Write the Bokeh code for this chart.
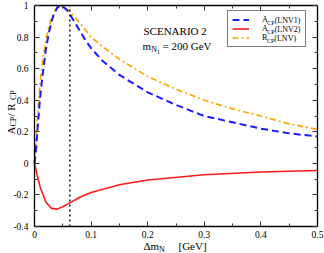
import math
from bokeh.plotting import figure
from bokeh.models import (LinearAxis, FixedTicker, Label, Legend,
                          LegendItem, Range1d)
from bokeh.embed import file_html
from bokeh.resources import INLINE

# ---------------- data ----------------
dm_lnv1 = [0, 0.002, 0.005, 0.01, 0.015, 0.02, 0.025, 0.03, 0.035, 0.04,
           0.045, 0.05, 0.06, 0.07, 0.08, 0.09, 0.1, 0.12, 0.15, 0.2,
           0.25, 0.3, 0.35, 0.4, 0.45, 0.5]
acp_lnv1 = [0, 0.06, 0.2, 0.42, 0.58, 0.72, 0.82, 0.9, 0.95, 0.985,
            1.0, 0.995, 0.96, 0.9, 0.84, 0.78, 0.73, 0.65, 0.56, 0.45,
            0.37, 0.3, 0.26, 0.22, 0.19, 0.17]

dm_rcp = [0, 0.002, 0.005, 0.01, 0.015, 0.02, 0.025, 0.03, 0.035, 0.04,
          0.045, 0.05, 0.06, 0.07, 0.08, 0.09, 0.1, 0.12, 0.15, 0.2,
          0.25, 0.3, 0.35, 0.4, 0.45, 0.5]
rcp_lnv = [0, 0.09, 0.28, 0.52, 0.67, 0.78, 0.86, 0.92, 0.96, 0.99,
           1.0, 0.995, 0.97, 0.93, 0.89, 0.845, 0.8, 0.74, 0.66, 0.55,
           0.47, 0.4, 0.345, 0.3, 0.25, 0.215]

dm_lnv2 = [0, 0.005, 0.01, 0.02, 0.03, 0.04, 0.05, 0.06, 0.07, 0.08,
           0.1, 0.15, 0.2, 0.3, 0.4, 0.5]
acp_lnv2 = [0, -0.08, -0.15, -0.245, -0.285, -0.29, -0.275, -0.255,
            -0.235, -0.215, -0.185, -0.135, -0.105, -0.072, -0.055, -0.045]

dm_marker = 0.0625

x_lo, x_hi = 0, 0.5
y_lo, y_hi = -0.4, 1.0
x_ticks = [0, 0.1, 0.2, 0.3, 0.4, 0.5]
x_tick_labels = ["0", "0.1", "0.2", "0.3", "0.4", "0.5"]
x_minor = [0.05, 0.15, 0.25, 0.35, 0.45]
y_ticks = [-0.4, -0.2, 0, 0.2, 0.4, 0.6, 0.8, 1]
y_tick_labels = ["-0.4", "-0.2", "0", "0.2", "0.4", "0.6", "0.8", "1"]
y_minor = [-0.3, -0.1, 0.1, 0.3, 0.5, 0.7, 0.9]

FONT = "Liberation Serif"

# ---------------- layout: data box placed on the canvas ----------------
W, H = 324, 253
PL, PR, PT, PB = 34, 317, 5, 226          # data box edges (canvas px)
sx = (x_hi - x_lo) / (PR - PL)
sy = (y_hi - y_lo) / (PB - PT)
xr = Range1d(x_lo - PL * sx, x_hi + (W - PR) * sx)
yr = Range1d(y_lo - (H - PB) * sy, y_hi + PT * sy)


def dx(px):
    return x_lo + (px - PL) * sx


def dy(py):
    return y_hi - (py - PT) * sy


p = figure(width=W, height=H, x_range=xr, y_range=yr, output_backend="svg",
           toolbar_location=None, x_axis_location=None, y_axis_location=None,
           min_border=0)
p.xgrid.visible = False
p.ygrid.visible = False
p.outline_line_color = None
p.background_fill_color = "white"
p.border_fill_color = "white"


def make_axis(side, loc, bounds, ticks, minor, labels, show):
    ax = LinearAxis(fixed_location=loc, bounds=bounds)
    ax.ticker = FixedTicker(ticks=ticks, minor_ticks=minor)
    if show:
        ax.major_label_overrides = dict(zip(ticks, labels))
        ax.major_label_text_font = FONT
        ax.major_label_text_font_size = "9.5px"
        ax.major_label_text_color = "black"
    else:
        ax.major_label_overrides = {t: "" for t in ticks}
    ax.axis_line_color = "black"
    ax.axis_line_width = 1.3
    ax.major_tick_in = 5
    ax.major_tick_out = 0
    ax.minor_tick_in = 3
    ax.minor_tick_out = 0
    ax.major_tick_line_color = "#333333"
    ax.minor_tick_line_color = "#333333"
    ax.axis_label = None
    p.add_layout(ax, side)
    return ax


bx = make_axis("below", y_lo, (x_lo, x_hi), x_ticks, x_minor, x_tick_labels, True)
bx.major_label_standoff = 4
ly = make_axis("left", x_lo, (y_lo, y_hi), y_ticks, y_minor, y_tick_labels, True)
ly.major_label_standoff = 6
make_axis("above", y_hi, (x_lo, x_hi), x_ticks, x_minor, x_tick_labels, False)
make_axis("right", x_hi, (y_lo, y_hi), y_ticks, y_minor, y_tick_labels, False)

# ---------------- curves ----------------
r_red = p.line(dm_lnv2, acp_lnv2, line_color="#ff1a1a", line_width=1.6)
r_org = p.line(dm_rcp, rcp_lnv, line_color="#ffa500", line_width=1.7,
               line_dash="6 3 2 3")
r_blue = p.line(dm_lnv1, acp_lnv1, line_color="#1a1aff", line_width=2,
                line_dash="7 4")
p.segment(x0=[dm_marker], y0=[y_lo], x1=[dm_marker], y1=[y_hi],
          line_color="black", line_width=1.4, line_dash="2 3")

# ---------------- legend ----------------
legend = Legend(items=[LegendItem(label="A", renderers=[r_blue]),
                       LegendItem(label="A", renderers=[r_red]),
                       LegendItem(label="R", renderers=[r_org])],
                location=(227, H - 47), padding=4, spacing=0,
                glyph_width=17, glyph_height=9, label_height=9,
                label_width=39, label_standoff=13, margin=0,
                label_text_font=FONT, label_text_font_size="8px",
                label_text_color="black", border_line_color="black",
                border_line_width=1, background_fill_color="white",
                background_fill_alpha=0.0)
p.add_layout(legend)


def lab(px, py, text, size, angle=0.0):
    """px, py: start of the text on its alphabetic baseline (canvas px)."""
    shift = 0.34 * size
    if angle:
        cx, cy = px - shift, py
    else:
        cx, cy = px, py - shift
    p.add_layout(Label(x=dx(cx), y=dy(cy), text=text, text_font=FONT,
                       text_font_size=f"{size}px", text_color="black",
                       text_align="left", text_baseline="middle",
                       angle=angle, level="overlay"))


# legend texts (subscripts and tails); rows centred at 20.5, 29.5, 38.5
for base, w, tail in [(23.2, 5.8, "(LNV1)"), (32.2, 5.8, "(LNV2)"),
                      (41.2, 5.4, "(LNV)")]:
    lab(261 + w, base + 1.8, "CP", 6)
    lab(261 + w + 7.4, base, tail, 8)

# annotations
lab(143, 34, "SCENARIO 2", 11)
lab(142, 49, "m", 11)
lab(150.8, 51.5, "N", 8)
lab(156.6, 53.5, "1", 6)
lab(162, 49, "= 200 GeV", 11)

# x-axis title
lab(143, 249.5, "\u0394m", 11)
lab(158.5, 251.5, "N", 8)
lab(178, 249.5, "[GeV]", 11)

# y-axis title (rotated)
A90 = math.pi / 2
lab(14, 134, "A", 11, A90)
lab(16, 126, "CP", 8, A90)
lab(14, 116, " / R", 11, A90)
lab(16, 99.5, "CP", 8, A90)

open("out.html", "w").write(file_html(p, INLINE))
